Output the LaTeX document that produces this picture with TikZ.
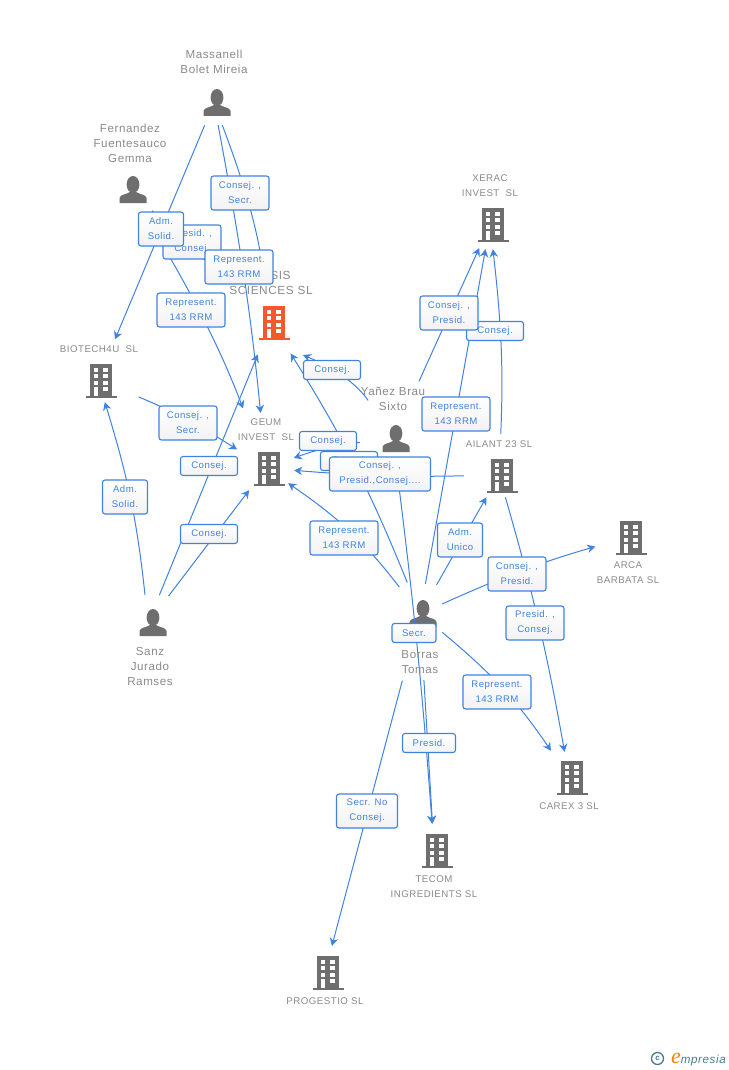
\documentclass[tikz,border=0pt]{standalone}
\usepackage{fontspec}
\newfontfamily\diagfont[LetterSpace=5]{Liberation Sans}
\newfontfamily\logofont{Liberation Serif}
\usetikzlibrary{arrows.meta,backgrounds}
\definecolor{linkblue}{HTML}{3F82E0}
\definecolor{icongray}{HTML}{6E6E6E}
\definecolor{namegray}{HTML}{8A8A8A}
\definecolor{redicon}{HTML}{F4592B}
\definecolor{logoteal}{HTML}{4A7C8C}
\tikzset{
  hub/.style={minimum size=44pt,inner sep=0pt},
  entname/.style={text=namegray,align=center,inner sep=0pt,font=\diagfont\fontsize{9.7}{15}\selectfont},
  persname/.style={entname,font=\diagfont\fontsize{11.6}{15}\selectfont},
  linkbox/.style={draw=linkblue,line width=1.1pt,rounded corners=2.5pt,top color=white,bottom color=white!95!black,
    text=linkblue,align=center,inner xsep=2pt,inner ysep=0pt,minimum height=19pt,font=\diagfont\fontsize{9.6}{15}\selectfont},
  shortbox/.style={linkbox,minimum width=57pt},
  widebox/.style={linkbox,minimum width=58pt,minimum height=34pt},
  repbox/.style={linkbox,minimum width=68pt,minimum height=34pt},
  smallbox/.style={linkbox,minimum width=45pt,minimum height=34pt},
  link/.style={draw=linkblue,line width=1pt,-{Stealth[length=8pt,width=8.5pt]}},
  pics/building/.style={code={
    \fill[#1] (-11,-16.5) rectangle (11,15.5);
    \fill[#1] (-15.5,15.5) rectangle (15.5,17.5);
    \foreach \wy in {-12.5,-6,0.5} {
      \fill[white] (-7.3,\wy) rectangle (-3,\wy+4);
      \fill[white] (2,\wy) rectangle (6.5,\wy+4);
    }
    \fill[white] (-7.3,7) rectangle (-3,15.5);
    \fill[white] (2,7) rectangle (6.5,11);
  }},
  pics/person/.style={code={
    \fill[icongray] (0,-5.5) ellipse [x radius=6.4,y radius=8.5];
    \fill[icongray] (-13.5,13) -- (-13.5,8) .. controls (-13,4.5) and (-7,4.5) .. (-3,2)
      -- (3,2) .. controls (7,4.5) and (13,4.5) .. (13.5,8) -- (13.5,13) -- cycle;
  }}
}
\begin{document}
\begin{tikzpicture}[x=1pt,y=-1pt]
    \useasboundingbox (0,0) rectangle (728,1070);

    \node (massanell) [hub] at (214,103) {};
    \node (fernandez) [hub] at (130,190) {};
    \node (sanz) [hub] at (148,623) {};
    \node (yanez) [hub] at (393,439) {};
    \node (borras) [hub] at (420,614) {};
    \node (sis) [hub] at (271,322) {};
    \node (biotech) [hub] at (98,380) {};
    \node (geum) [hub] at (266,468) {};
    \node (xerac) [hub] at (490,224) {};
    \node (ailant) [hub] at (499,475) {};
    \node (arca) [hub] at (628,537) {};
    \node (carex) [hub] at (569,777) {};
    \node (tecom) [hub] at (434,850) {};
    \node (progestio) [hub] at (325,972) {};
    \coordinate (sistip) at (303,355);

    \node (massanellname) [persname] at (214,62) {Massanell\\Bolet Mireia};
    \node (fernandezname) [persname] at (130,143) {Fernandez\\Fuentesauco\\Gemma};
    \node (sanzname) [persname] at (150,666) {Sanz\\Jurado\\Ramses};
    \node (yanezname) [persname] at (393,399) {Yañez Brau\\Sixto};
    \node (borrasname) [persname] at (420,662) {Borras\\Tomas};
    \node (sisname) [persname,font=\diagfont\fontsize{11.8}{15}\selectfont] at (271,283) {\hspace*{19pt}SIS\\SCIENCES SL};
    \node (biotechname) [entname] at (99,349) {BIOTECH4U\ \ SL};
    \node (geumname) [entname] at (266,430) {GEUM\\INVEST\ \ SL};
    \node (xeracname) [entname] at (490,186) {XERAC\\INVEST\ \ SL};
    \node (ailantname) [entname] at (499,444) {AILANT 23 SL};
    \node (arcaname) [entname] at (628,573) {ARCA\\BARBATA SL};
    \node (carexname) [entname] at (569,806) {CAREX 3 SL};
    \node (tecomname) [entname] at (434,887) {TECOM\\INGREDIENTS SL};
    \node (progestioname) [entname] at (325,1001) {PROGESTIO SL};

    \node (secra) [widebox] at (240,193) {Consej. ,\\Secr.};
    \node (presa) [widebox] at (192,242) {Presid. ,\\Consej.};
    \node (sola) [smallbox] at (161,229) {Adm.\\Solid.};
    \node (repa) [repbox] at (239,267) {Represent.\\143 RRM};
    \node (repb) [repbox] at (191,310) {Represent.\\143 RRM};
    \node (consa) [shortbox] at (332,370) {Consej.};
    \node (consb) [shortbox] at (495,331) {Consej.};
    \node (presb) [widebox] at (449,313) {Consej. ,\\Presid.};
    \node (repc) [repbox] at (456,414) {Represent.\\143 RRM};
    \node (consd) [shortbox] at (349,461) {Consej.};
    \node (consc) [shortbox] at (328,441) {Consej.};
    \node (big) [linkbox,minimum width=101pt,minimum height=34pt] at (380,474) {Consej. ,\\Presid.,Consej....};
    \node (secrb) [widebox] at (188,423) {Consej. ,\\Secr.};
    \node (conse) [shortbox] at (209,466) {Consej.};
    \node (consf) [shortbox] at (209,534) {Consej.};
    \node (solb) [smallbox] at (125,497) {Adm.\\Solid.};
    \node (repd) [repbox] at (344,538) {Represent.\\143 RRM};
    \node (unico) [smallbox] at (460,540) {Adm.\\Unico};
    \node (presc) [widebox] at (517,574) {Consej. ,\\Presid.};
    \node (presd) [widebox] at (535,623) {Presid. ,\\Consej.};
    \node (secrc) [linkbox,minimum width=44pt] at (414,633) {Secr.};
    \node (repe) [repbox] at (497,692) {Represent.\\143 RRM};
    \node (prese) [linkbox,minimum width=53pt] at (429,743) {Presid.};
    \node (secrd) [repbox,minimum width=61pt] at (367,811) {Secr. No\\Consej.};

    \begin{scope}[on background layer]
      \pic at ([xshift=3pt]massanell) {person};
      \pic at ([xshift=3pt]fernandez) {person};
      \pic at ([xshift=5pt]sanz) {person};
      \pic at ([xshift=3pt]yanez) {person};
      \pic at ([xshift=3pt]borras) {person};
      \pic at ([xshift=3pt]sis) {building=redicon};
      \pic at ([xshift=3pt]biotech) {building=icongray};
      \pic at ([xshift=3pt]geum) {building=icongray};
      \pic at ([xshift=3pt]xerac) {building=icongray};
      \pic at ([xshift=3pt]ailant) {building=icongray};
      \pic at ([xshift=3pt]arca) {building=icongray};
      \pic at ([xshift=3pt]carex) {building=icongray};
      \pic at ([xshift=3pt]tecom) {building=icongray};
      \pic at ([xshift=3pt]progestio) {building=icongray};

      \draw [link,shorten >=20pt] (massanell) -- (biotech);
      \draw [link,shorten >=33pt] (massanell) to [bend left=2.5] (geum);
      \draw [link,shorten >=26pt] (massanell) to [bend left=6] (sis);
      \draw [link,shorten >=28pt] (fernandez) -- (sis);
      \draw [link,shorten >=40pt] (fernandez) to [bend left=5] (geum);
      \draw [link,shorten <=20pt,shorten >=8pt] (biotech) to [bend left=5] (geum);
      \draw [link,shorten <=6pt] (sanz) to [bend right=5.5] (biotech);
      \draw [link,shorten <=6pt,shorten >=11pt] (sanz) -- (sis);
      \draw [link,shorten <=6pt] (sanz) -- (geum);
      \draw [link,shorten <=20pt] (yanez) to [bend right=16] (sistip);
      \draw [link,shorten <=39pt,shorten >=2pt] (yanez) -- (xerac);
      \draw [link,shorten <=11pt,shorten >=6pt] (yanez) to [bend right=7] (geum);
      \draw [link,shorten >=4pt] (yanez) to [bend left=1.5] (tecom);
      \draw [link,shorten <=13pt,shorten >=6pt] (ailant) to [bend left=3] (geum);
      \draw [link,shorten <=19pt,shorten >=3pt] (ailant) to [bend right=4.5] (xerac);
      \draw [link,shorten >=3pt] (ailant) to [bend left=3] (carex);
      \draw [link,shorten <=6pt] (borras) to [bend right=9] (geum);
      \draw [link,shorten <=10pt,shorten >=11pt] (borras) to [bend right=5] (sis);
      \draw [link,shorten <=8pt,shorten >=3pt] (borras) -- (xerac);
      \draw [link,shorten <=8pt] (borras) -- (ailant);
      \draw [link,shorten >=11pt] (borras) to [bend left=4] (arca);
      \draw [link,shorten >=5pt] (borras) to [bend left=8] (carex);
      \draw [link,shorten <=44pt,shorten >=4pt] (borras) -- (tecom);
      \draw [link,shorten <=46pt,shorten >=4pt] (borras) -- (progestio);
    \end{scope}

    \node (copyicon) [draw=logoteal,circle,line width=1.3pt,inner sep=0pt,minimum size=12pt,text=logoteal,font=\diagfont\bfseries\fontsize{8}{8}\selectfont] at (657.5,1058.5) {c};
    \node (logoname) [anchor=base west,inner sep=0pt,text=logoteal,font=\diagfont\itshape\fontsize{11.6}{12}\selectfont] at (671,1063) {\textcolor{orange}{\logofont\itshape\fontsize{22}{22}\selectfont e}mpresia};
  \end{tikzpicture}
\end{document}
